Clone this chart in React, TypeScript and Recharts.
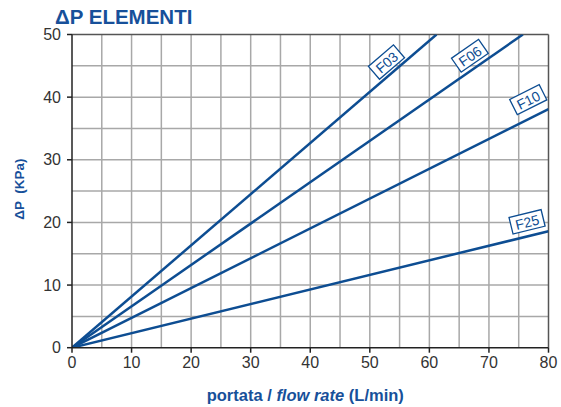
import React from 'react';
import {
  LineChart,
  Line,
  XAxis,
  YAxis,
  ReferenceLine,
  ReferenceDot,
} from 'recharts';

// flow rate (L/min) vs pressure drop (KPa), straight lines from origin
const seriesNames = ['F03', 'F06', 'F10', 'F25'];
const endFlow = [61.2, 75.7, 80, 80];
const endDp = [50, 50, 38.1, 18.6];

// where the boxed labels sit (data units)
const labelFlow = [52.8, 66.8, 76.6, 76.4];
const labelDp = [45.6, 46.6, 39.6, 20.1];

const xTicks = [0, 10, 20, 30, 40, 50, 60, 70, 80];
const yTicks = [0, 10, 20, 30, 40, 50];
const xGrid = [5, 10, 15, 20, 25, 30, 35, 40, 45, 50, 55, 60, 65, 70, 75];
const yGrid = [5, 10, 15, 20, 25, 30, 35, 40, 45];

const W = 561;
const H = 407;
const MARGIN = { top: 34.5, right: 12.5, left: 12, bottom: 9.3 };
const Y_AXIS_W = 60;
const X_AXIS_H = 50;
const PLOT_W = W - MARGIN.left - MARGIN.right - Y_AXIS_W;
const PLOT_H = H - MARGIN.top - MARGIN.bottom - X_AXIS_H;

const BLUE = '#0d4d92';
const TEXT_BLUE = '#17509a';
const FONT = '"Liberation Sans", Arial, Helvetica, sans-serif';

const lineData = seriesNames.map((_, i) => [
  { x: 0, y: 0 },
  { x: endFlow[i], y: endDp[i] },
]);

// label follows the slope of its line on screen
const angleOf = (i: number) =>
  (-Math.atan(((endDp[i] / 50) * PLOT_H) / ((endFlow[i] / 80) * PLOT_W)) * 180) / Math.PI;

const makeTag = (name: string, angle: number) => (props: any) => {
  const { cx, cy } = props;
  return (
    <g transform={`translate(${cx},${cy}) rotate(${angle})`}>
      <rect x={-16.5} y={-8.5} width={33} height={17} fill="#fff" stroke={BLUE} strokeWidth={1.3} />
      <text
        x={0}
        y={0.5}
        textAnchor="middle"
        dominantBaseline="central"
        fill={BLUE}
        fontSize={14}
        fontFamily={FONT}
      >
        {name}
      </text>
    </g>
  );
};

const XLabel = (props: any) => {
  const { viewBox } = props;
  return (
    <text
      x={viewBox.x + viewBox.width / 2 - 5}
      y={viewBox.y + 53}
      textAnchor="middle"
      fill={TEXT_BLUE}
      fontSize={16.5}
      fontWeight="bold"
      fontFamily={FONT}
    >
      portata / <tspan fontStyle="italic">flow rate</tspan> (L/min)
    </text>
  );
};

const YLabel = (props: any) => {
  const { viewBox } = props;
  const x = viewBox.x + 8;
  const y = viewBox.y + viewBox.height / 2 - 2;
  return (
    <text
      x={x}
      y={y}
      transform={`rotate(-90, ${x}, ${y})`}
      textAnchor="middle"
      dominantBaseline="central"
      fill={TEXT_BLUE}
      fontSize={13.5}
      fontWeight="bold"
      fontFamily={FONT}
      style={{ whiteSpace: 'pre' }}
    >
      {'ΔP  (KPa)'}
    </text>
  );
};

export default function App() {
  const tick = { fill: '#333', fontSize: 16, fontFamily: FONT };
  return (
    <div style={{ position: 'absolute', left: 0, top: 0, width: W, height: H, background: '#fff' }}>
      <div
        style={{
          position: 'absolute',
          left: 55,
          top: 7,
          fontFamily: FONT,
          fontWeight: 'bold',
          fontSize: 20.5,
          lineHeight: '20.5px',
          color: TEXT_BLUE,
          whiteSpace: 'nowrap',
        }}
      >
        ΔP ELEMENTI
      </div>
      <LineChart width={W} height={H} margin={MARGIN}>
        <XAxis
          type="number"
          dataKey="x"
          domain={[0, 80]}
          ticks={xTicks}
          interval={0}
          height={X_AXIS_H}
          tick={tick}
          tickSize={5}
          tickMargin={4}
          stroke="#222"
          strokeWidth={1.5}
          allowDataOverflow
          label={<XLabel />}
        />
        <YAxis
          type="number"
          dataKey="y"
          domain={[0, 50]}
          ticks={yTicks}
          interval={0}
          width={Y_AXIS_W}
          tick={tick}
          tickSize={5}
          tickMargin={6}
          stroke="#222"
          strokeWidth={1.5}
          allowDataOverflow
          label={<YLabel />}
        />
        {xGrid.map((v) => (
          <ReferenceLine key={'gx' + v} x={v} stroke="#a8a8a8" strokeWidth={1.5} />
        ))}
        {yGrid.map((v) => (
          <ReferenceLine key={'gy' + v} y={v} stroke="#a8a8a8" strokeWidth={1.5} />
        ))}
        <ReferenceLine y={50} stroke="#555" strokeWidth={1.5} />
        <ReferenceLine x={80} stroke="#555" strokeWidth={1.5} />
        {seriesNames.map((name, i) => (
          <Line
            key={name}
            data={lineData[i]}
            dataKey="y"
            type="linear"
            stroke={BLUE}
            strokeWidth={2.5}
            dot={false}
            activeDot={false}
            isAnimationActive={false}
          />
        ))}
        {seriesNames.map((name, i) => (
          <ReferenceDot
            key={'lab' + name}
            x={labelFlow[i]}
            y={labelDp[i]}
            r={0}
            shape={makeTag(name, angleOf(i))}
          />
        ))}
      </LineChart>
    </div>
  );
}
